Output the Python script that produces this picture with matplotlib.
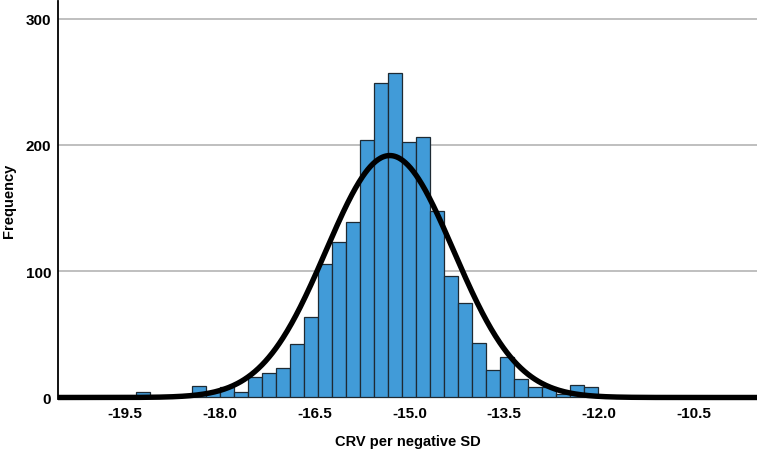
import numpy as np
import matplotlib
matplotlib.use("Agg")
import matplotlib.pyplot as plt

# Histogram data (counts per bin)
bin_start = -19.5 + (121.7 - 125) / 63.2   # left edge of first bin
bin_width = 0.2215
counts = [1, 4, 0, 0, 0, 9, 4, 8, 4, 16, 19, 23, 42, 64, 106, 123, 139,
          204, 249, 257, 202, 206, 148, 96, 75, 43, 22, 32, 15, 8, 8, 3, 10, 8, 1]

# Normal curve parameters
curve_mean = -15.31
curve_sd = 1.01
curve_n = 2190

xticks = [-19.5, -18.0, -16.5, -15.0, -13.5, -12.0, -10.5]
xtick_labels = ["-19.5", "-18.0", "-16.5", "-15.0", "-13.5", "-12.0", "-10.5"]
yticks = [0, 100, 200, 300]

plt.rcParams['font.family'] = ['Liberation Sans', 'DejaVu Sans']

fig = plt.figure(figsize=(7.62, 4.52), dpi=100)
ax = fig.add_axes([58 / 762, 1 - 400 / 452, (757 - 58) / 762, 398 / 452])

edges = bin_start + bin_width * np.arange(len(counts) + 1)
ax.bar(edges[:-1], counts, width=bin_width, align='edge', color='#419bd8',
       edgecolor='#1e2a33', linewidth=0.9, zorder=2)

xmin, xmax = -20.56, -9.5
xs = np.linspace(xmin, xmax, 800)
ys = curve_n * bin_width / (curve_sd * np.sqrt(2 * np.pi)) * np.exp(-0.5 * ((xs - curve_mean) / curve_sd) ** 2)
ax.plot(xs, ys, color='black', linewidth=3.9, zorder=3, solid_capstyle='butt', clip_on=False)

ax.set_xlim(xmin, xmax)
ax.set_ylim(-1.2, 314)
for yv in yticks:
    ax.axhline(yv, color='#b4b4b4', linewidth=1.2, zorder=1)

ax.set_xticks(xticks)
ax.set_xticklabels(xtick_labels)
ax.set_yticks(yticks)
ax.tick_params(axis='both', length=0, labelsize=11, pad=5)
for lab in ax.get_xticklabels() + ax.get_yticklabels():
    lab.set_fontweight('bold')

for s in ['top', 'right', 'bottom']:
    ax.spines[s].set_visible(False)
ax.spines['left'].set_color('black')
ax.spines['left'].set_linewidth(1.3)

ax.set_xlabel("CRV per negative SD", fontsize=10.5, fontweight='bold', labelpad=10)
ax.set_ylabel("Frequency", fontsize=10.5, fontweight='bold', labelpad=7)

fig.savefig("out.png", dpi=100)
